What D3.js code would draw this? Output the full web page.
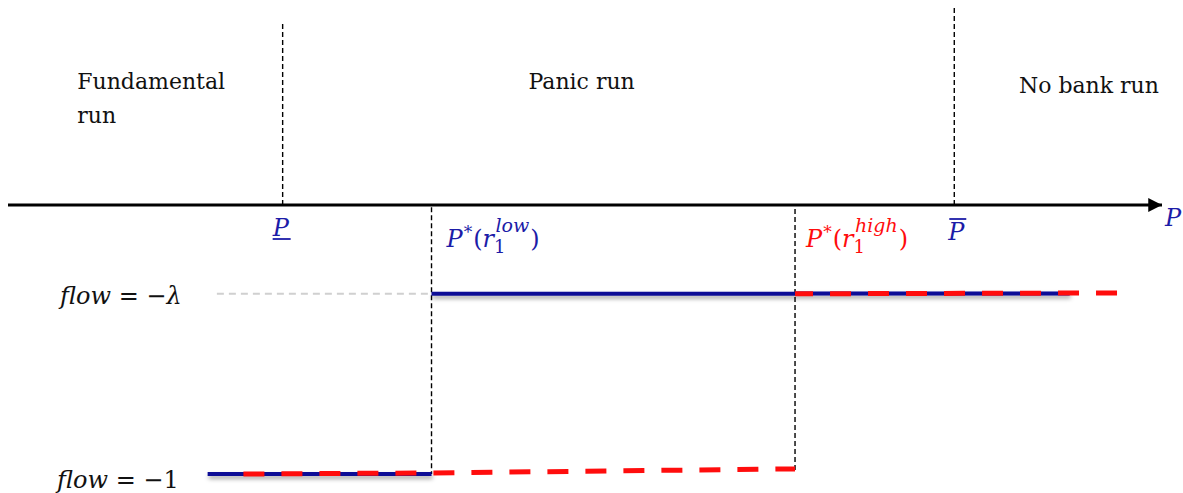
<!DOCTYPE html>
<html>
<head>
<meta charset="utf-8">
<script src="https://cdn.jsdelivr.net/npm/d3@7"></script>
<style>
  body { margin: 0; background: #fff; }
  svg { display: block; }
  .region { font-family: "DejaVu Serif", serif; font-size: 22px; fill: #111; }
  .math { font-family: "DejaVu Serif", serif; font-style: italic; font-size: 24px; }
</style>
</head>
<body>
<div id="chart"></div>
<script>
// Bank-run regions along the fundamental P, with flow levels for two r1 values

// thresholds on the P axis (chart units)
const thresholdNames = ["P_low", "P_star_low", "P_star_high", "P_high"];
const thresholdValues = [23.8, 36.7, 68.2, 82.0];

// flow levels
const lambda = 0.33;
const flowLevels = [-lambda, -1];

// blue series: r1 low
const blueP = [17.3, 36.7, 36.7, 68.2, 68.2, 92.0];
const blueFlow = [-1, -1, -lambda, -lambda, -0.329, -0.329];

// red series: r1 high (dashed)
const redP = [20.4, 36.7, 68.2, 68.2, 96.3];
const redFlow = [-1, -0.996, -0.981, -0.33, -0.327];

// grey guide at flow = -lambda
const guideP = [18.1, 36.7];

// region labels
const regionNames = [["Fundamental", "run"], ["Panic run"], ["No bank run"]];
const regionP = [6.0, 45.1, 87.6];

const height = 493,
      width = 1183,
      margin = ({top: 8, right: 20, bottom: 19, left: 8});

let svg = d3.select("#chart")
    .append("svg")
    .attr("width", width)
    .attr("height", height)
    .attr("viewBox", [0, 0, width, height]);

let x = d3.scaleLinear()
    .domain([0, 100])
    .range([margin.left, 1162]);

let y = d3.scaleLinear()
    .domain([0, -1])
    .range([205, 474]);

const blue = "#0c0c96",
      blueText = "#1c1ca8",
      red = "#ff0d0d";

let defs = svg.append("defs");
defs.append("filter")
    .attr("id", "shadow")
    .attr("filterUnits", "userSpaceOnUse")
    .attr("x", 0).attr("y", 0)
    .attr("width", width).attr("height", height)
  .append("feDropShadow")
    .attr("dx", 1).attr("dy", 3)
    .attr("stdDeviation", 2)
    .attr("flood-color", "#000")
    .attr("flood-opacity", 0.35);

defs.append("marker")
    .attr("id", "arrow")
    .attr("viewBox", "0 0 10 10")
    .attr("refX", 10).attr("refY", 5)
    .attr("markerWidth", 4.3).attr("markerHeight", 4.3)
    .attr("markerUnits", "strokeWidth")
    .attr("orient", "auto")
  .append("path")
    .attr("d", "M0,0 L10,5 L0,10 Z")
    .attr("fill", "#000");

// horizontal P axis
svg.append("line")
    .attr("x1", x(0)).attr("x2", x(100))
    .attr("y1", y(0)).attr("y2", y(0))
    .attr("stroke", "#000")
    .attr("stroke-width", 3.2)
    .attr("marker-end", "url(#arrow)");

// vertical dashed boundaries
const vlines = [
  {p: thresholdValues[0], f0: 0, f1: 0.68},
  {p: thresholdValues[3], f0: 0, f1: 0.735},
  {p: thresholdValues[1], f0: -0.008, f1: -1},
  {p: thresholdValues[2], f0: -0.015, f1: -0.985}
];
svg.selectAll(".vline")
  .data(vlines)
  .join("line")
    .attr("class", "vline")
    .attr("x1", d => x(d.p)).attr("x2", d => x(d.p))
    .attr("y1", d => y(d.f0)).attr("y2", d => y(d.f1))
    .attr("stroke", "#000")
    .attr("stroke-width", 1.4)
    .attr("stroke-dasharray", "5,3");

// grey guide
svg.append("line")
    .attr("x1", x(guideP[0])).attr("x2", x(guideP[1]))
    .attr("y1", y(-lambda)).attr("y2", y(-lambda))
    .attr("stroke", "#d0d0d0")
    .attr("stroke-width", 2)
    .attr("stroke-dasharray", "7,5");

// blue series: drawn as horizontal pieces only (no vertical jumps)
const bluePts = blueP.map((p, i) => [p, blueFlow[i]]);
const blueSegs = [];
for (let i = 0; i < bluePts.length; i += 2) blueSegs.push([bluePts[i], bluePts[i + 1]]);

svg.selectAll(".blue")
  .data(blueSegs)
  .join("line")
    .attr("class", "blue")
    .attr("x1", d => x(d[0][0])).attr("x2", d => x(d[1][0]))
    .attr("y1", d => y(d[0][1])).attr("y2", d => y(d[1][1]))
    .attr("stroke", blue)
    .attr("stroke-width", 4)
    .attr("filter", "url(#shadow)");

// red series
const redSegs = [
  [[redP[0], redFlow[0]], [redP[1], redFlow[1]], [redP[2], redFlow[2]]],
  [[redP[3], redFlow[3]], [redP[4], redFlow[4]]]
];
const line = d3.line().x(d => x(d[0])).y(d => y(d[1]));

svg.selectAll(".red")
  .data(redSegs)
  .join("path")
    .attr("class", "red")
    .attr("d", line)
    .attr("fill", "none")
    .attr("stroke", red)
    .attr("stroke-width", 5)
    .attr("stroke-dasharray", "21,17")
    .attr("stroke-dashoffset", (d, i) => i === 0 ? 0 : 3);

// region labels
regionNames.forEach((lines, i) => {
  let t = svg.append("text")
      .attr("class", "region")
      .attr("x", x(regionP[i]))
      .attr("y", i === 2 ? 93 : 89);
  lines.forEach((s, j) => {
    t.append("tspan")
      .attr("x", x(regionP[i]))
      .attr("dy", j === 0 ? 0 : 34)
      .text(s);
  });
});

// flow labels
const flowTail = ["\u03bb", "1"];
svg.selectAll(".flow")
  .data(flowLevels)
  .join("text")
    .attr("class", "math flow")
    .attr("x", (d, i) => i === 0 ? 60 : 57)
    .attr("y", d => y(d) + (d === -1 ? 14 : 10))
    .attr("fill", "#111")
    .each(function(d, i) {
      let t = d3.select(this);
      t.append("tspan").text("flow");
      t.append("tspan").attr("font-style", "normal").text(" = \u2212");
      t.append("tspan").attr("font-style", i === 0 ? "italic" : "normal").text(flowTail[i]);
    });

// P underline
let pLow = svg.append("g").attr("transform", `translate(${x(thresholdValues[0]) - 10},236)`);
pLow.append("text").attr("class", "math").attr("fill", blueText).text("P");
pLow.append("line").attr("x1", 0).attr("x2", 18).attr("y1", 3).attr("y2", 3)
    .attr("stroke", blueText).attr("stroke-width", 1.8);

// P overbar
let pHigh = svg.append("g").attr("transform", `translate(${x(thresholdValues[3]) - 6},240)`);
pHigh.append("text").attr("class", "math").attr("fill", blueText).text("P");
pHigh.append("line").attr("x1", 1).attr("x2", 18).attr("y1", -21).attr("y2", -21)
    .attr("stroke", blueText).attr("stroke-width", 1.8);

// P*(r1^...) labels
function starLabel(px, color, sup) {
  let t = svg.append("text")
      .attr("class", "math")
      .attr("x", px)
      .attr("y", 247)
      .attr("font-size", 25)
      .attr("fill", color);
  t.append("tspan").text("P");
  t.append("tspan").attr("font-size", 17).attr("dy", -9).attr("dx", 1).attr("font-style", "normal").text("*");
  t.append("tspan").attr("dy", 9).attr("dx", 1).attr("font-style", "normal").text("(");
  t.append("tspan").text("r");
  t.append("tspan").attr("font-size", 18).attr("dy", 6).attr("font-style", "normal").text("1");
  t.append("tspan").attr("font-size", 19).attr("dx", -10).attr("dy", -21).text(sup);
  t.append("tspan").attr("dy", 15).attr("dx", 1).attr("font-style", "normal").text(")");
}
starLabel(x(thresholdValues[1]) + 15, blueText, "low");
starLabel(x(thresholdValues[2]) + 11, red, "high");

// axis name
svg.append("text")
    .attr("class", "math")
    .attr("x", 1165)
    .attr("y", 226)
    .attr("fill", blueText)
    .text("P");
</script>
</body>
</html>
